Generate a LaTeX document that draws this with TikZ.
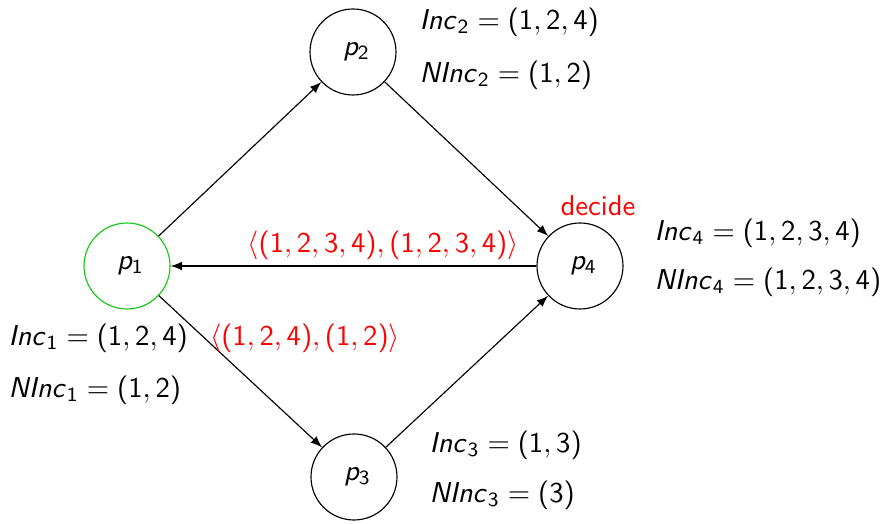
\documentclass[tikz,border=0pt]{standalone}
\usetikzlibrary{arrows}
\DeclareMathAlphabet{\mathsfit}{OT1}{cmss}{m}{it}
\SetSymbolFont{operators}{normal}{OT1}{cmss}{m}{n}
\begin{document}
\begin{tikzpicture}[x=0.3484pt,y=-0.3484pt,
  proc/.style={circle,draw,minimum size=86*0.3484pt,inner sep=0pt},
  lbl/.style={anchor=west,inner sep=0pt},
  msg/.style={text=red,inner sep=0pt},
  edge/.style={-latex,line width=0.4pt}]
\useasboundingbox (0,0) rectangle (885,524);
\definecolor{pgreen}{RGB}{20,200,20}
\node[proc,draw=pgreen] (p1) at (127,266) {\hspace{2.5pt}$\mathsfit{p}_1$};
\node[proc] (p2) at (353,52) {\hspace{2.5pt}$\mathsfit{p}_2$};
\node[proc] (p3) at (354,477) {\hspace{2.5pt}$\mathsfit{p}_3$};
\node[proc] (p4) at (580,266) {\hspace{2.5pt}$\mathsfit{p}_4$};
\draw[edge] (p1) -- (p2);
\draw[edge] (p2) -- (p4);
\draw[edge] (p4) -- (p1);
\draw[edge] (p1) -- (p3);
\draw[edge] (p3) -- (p4);
\node[lbl] (i2) at (419,22) {$\mathsfit{Inc}_2=(1,2,4)$};
\node[lbl] (n2) at (419,75) {$\mathsfit{NInc}_2=(1,2)$};
\node[lbl] (i4) at (654,233) {$\mathsfit{Inc}_4=(1,2,3,4)$};
\node[lbl] (n4) at (654,282) {$\mathsfit{NInc}_4=(1,2,3,4)$};
\node[lbl] (i1) at (8,338) {$\mathsfit{Inc}_1=(1,2,4)$};
\node[lbl] (n1) at (8,390) {$\mathsfit{NInc}_1=(1,2)$};
\node[lbl] (i3) at (429,445) {$\mathsfit{Inc}_3=(1,3)$};
\node[lbl] (n3) at (429,495) {$\mathsfit{NInc}_3=(3)$};
\node[msg] (dec) at (598,206) {\sffamily decide};
\node[msg] (m1) at (383,245) {$\langle(1,2,3,4),(1,2,3,4)\rangle$};
\node[msg] (m2) at (305,338) {$\langle(1,2,4),(1,2)\rangle$};
\end{tikzpicture}
\end{document}
